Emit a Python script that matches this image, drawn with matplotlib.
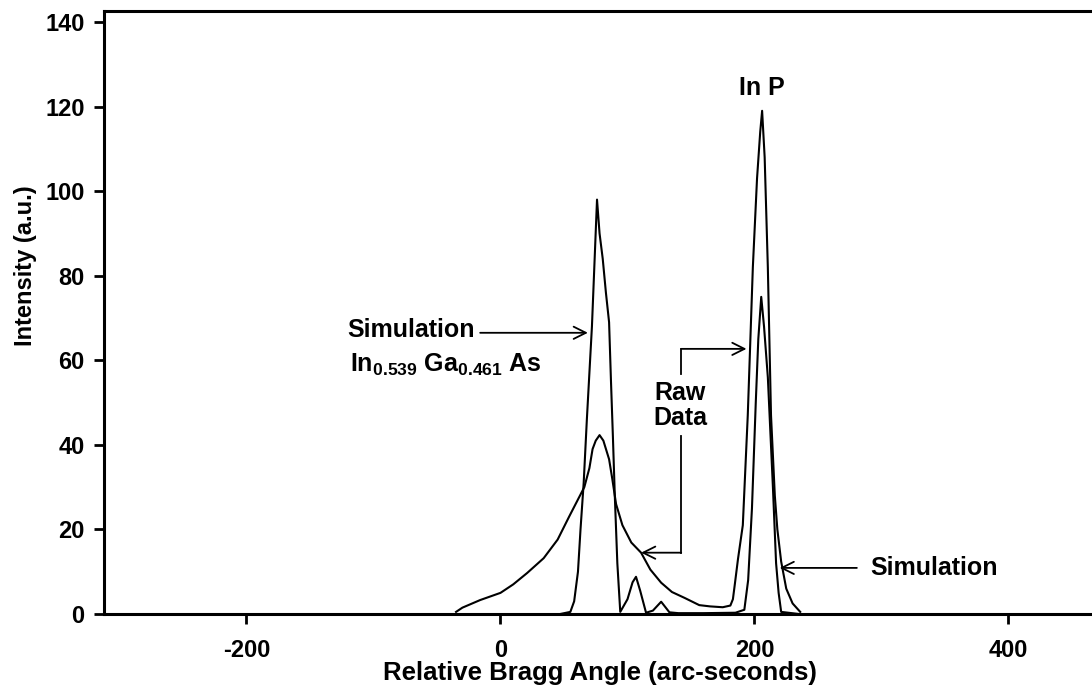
import matplotlib
matplotlib.use("Agg")
from matplotlib import pyplot as plt

plt.rcParams['font.family'] = ['Liberation Sans', 'DejaVu Sans']
plt.rcParams['font.weight'] = 'bold'
plt.rcParams['axes.unicode_minus'] = False
plt.rcParams['mathtext.fontset'] = 'custom'
plt.rcParams['mathtext.rm'] = 'Liberation Sans:bold'
plt.rcParams['mathtext.bf'] = 'Liberation Sans:bold'
plt.rcParams['mathtext.it'] = 'Liberation Sans:bold'

# raw diffraction data (arc-seconds, a.u.)
raw_angle = [-35, -30, -16, 0, 10, 21, 34, 45, 54, 60, 66, 70, 72.5, 75, 78, 81,
             85.5, 88, 91, 96, 103, 110.7, 118, 126.5, 135, 145, 156.5, 165, 175,
             181, 183, 184.5, 187, 190.8, 194.7, 198.7, 202, 204.5, 206, 208,
             210.5, 213, 216, 218, 221, 225, 230, 236]
raw_int = [0.5, 1.5, 3.3, 5.0, 7.0, 9.7, 13.2, 17.6, 23.0, 26.5, 30.0, 34.5, 39.0,
           41.0, 42.3, 41.0, 36.6, 32.0, 26.0, 21.0, 16.9, 14.5, 10.5, 7.4, 5.2,
           3.8, 2.1, 1.8, 1.6, 2.0, 3.5, 7.0, 13.0, 21.0, 47.0, 82.0, 103.0, 114.0,
           119.0, 108.0, 82.0, 47.0, 28.0, 20.0, 12.4, 6.0, 2.5, 0.5]

# simulated rocking curve
sim_angle = [47, 55, 58, 61, 63, 65.5, 68, 70, 72, 74, 76, 78, 80.5, 83, 85.5, 87,
             88.5, 90, 92, 94.3, 100, 104, 106.7, 110, 114.6, 120, 126.5, 133,
             140, 160, 185, 192, 195, 198, 201, 203, 205.3, 207.5, 210.5, 214.5,
             217, 219, 221, 235]
sim_int = [0.0, 0.5, 3.0, 10.0, 20.0, 31.0, 46.0, 57.0, 68.0, 83.0, 98.0, 90.0,
           84.0, 76.0, 69.0, 55.0, 42.0, 28.0, 12.0, 0.5, 3.5, 7.5, 8.8, 5.5, 0.3,
           0.8, 2.9, 0.4, 0.2, 0.2, 0.3, 1.0, 8.0, 25.0, 50.0, 65.0, 75.0, 68.0,
           56.0, 30.0, 12.0, 5.0, 0.5, 0.0]

fig = plt.figure(figsize=(10.92, 6.89), dpi=100)
ax = fig.add_axes([104 / 1092, 75 / 689, 1031.5 / 1092, 603 / 689])

ax.plot(raw_angle, raw_int, color='black', linewidth=1.5)
ax.plot(sim_angle, sim_int, color='black', linewidth=1.5)

ax.set_xlim(-312.2, 500)
ax.set_ylim(0, 142.6)
ax.set_xticks([-200, 0, 200, 400])
ax.set_yticks(range(0, 141, 20))
ax.tick_params(axis='both', labelsize=17, width=2, length=7, direction='out')
ax.tick_params(axis='x', pad=11)
ax.tick_params(axis='y', pad=7)
for lab in ax.get_xticklabels() + ax.get_yticklabels():
  lab.set_fontweight('bold')
for side in ['left', 'bottom', 'top']:
  ax.spines[side].set_linewidth(2.2)
ax.spines['right'].set_visible(False)

ax.set_xlabel('Relative Bragg Angle (arc-seconds)', fontsize=18.5, fontweight='bold')
ax.set_ylabel('Intensity (a.u.)', fontsize=17, fontweight='bold')
ax.xaxis.set_label_coords((600 - 104) / 1031.5, (614 - 673) / 603)
ax.xaxis.label.set_va('center')
ax.yaxis.set_label_coords((25 - 104) / 1031.5, (614 - 266) / 603)
ax.yaxis.label.set_va('center')

arrow = dict(arrowstyle='->', color='black', lw=1.3, mutation_scale=22,
             shrinkA=0, shrinkB=0)
txt = dict(fontsize=18, fontweight='bold')

# InGaAs simulation label
ax.annotate('', xy=(68.8, 66.5), xytext=(-16, 66.5), arrowprops=arrow)
ax.text(-121, 65.6, 'Simulation', va='baseline', **txt)
ax.text(-118.6, 57.2, r'In$_{\mathbf{0.539}}$ Ga$_{\mathbf{0.461}}$ As',
        va='baseline', **txt)

# Raw data bracket arrows
ax.text(141.5, 49.4, 'Raw\nData', ha='center', va='center', linespacing=1.05, **txt)
ax.plot([142.3, 142.3], [56.8, 62.7], color='black', lw=1.3)
ax.annotate('', xy=(193.7, 62.7), xytext=(142.3, 62.7), arrowprops=arrow)
ax.plot([142.3, 142.3], [42.0, 14.5], color='black', lw=1.3)
ax.annotate('', xy=(110.7, 14.5), xytext=(142.3, 14.5), arrowprops=arrow)

# InP labels
ax.text(206, 124.5, 'In P', ha='center', va='center', **txt)
ax.annotate('', xy=(219.8, 10.9), xytext=(280.6, 10.9), arrowprops=arrow)
ax.text(291, 10.9, 'Simulation', va='center', **txt)

fig.savefig('out.png', dpi=100)
